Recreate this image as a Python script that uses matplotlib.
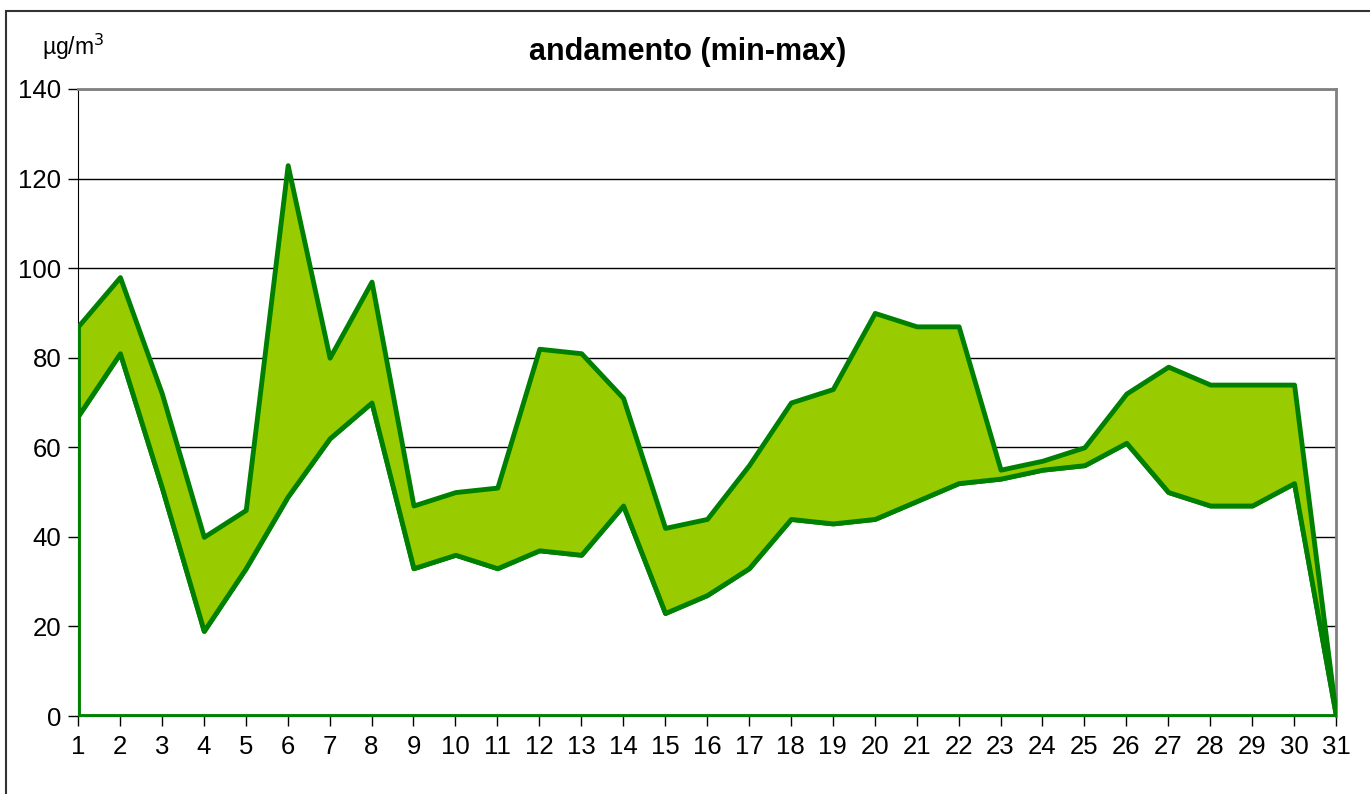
import numpy as np
import matplotlib.pyplot as plt
from matplotlib.patches import Rectangle

plt.rcParams['font.family'] = ['Liberation Sans', 'DejaVu Sans']

# Dati (µg/m3)
giorni = list(range(1, 32))
val_max = [87, 98, 72, 40, 46, 123, 80, 97, 47, 50, 51, 82, 81, 71, 42, 44,
           56, 70, 73, 90, 87, 87, 55, 57, 60, 72, 78, 74, 74, 74, 0]
val_min = [67, 81, 51, 19, 33, 49, 62, 70, 33, 36, 33, 37, 36, 47, 23, 27,
           33, 44, 43, 44, 48, 52, 53, 55, 56, 61, 50, 47, 47, 52, 0]

verde = '#008000'
verde_chiaro = '#99CC00'

fig = plt.figure(figsize=(13.7, 7.94), dpi=100)
ax = fig.add_axes([78/1370, 1-716/794, (1336-78)/1370, (716-89)/794])

x = np.array(giorni)
ax.fill_between(x, 0, val_min, facecolor='white', edgecolor=verde, linewidth=3.5,
                joinstyle='round', zorder=3)
ax.fill_between(x, val_min, val_max, facecolor=verde_chiaro, edgecolor=verde,
                linewidth=3.5, joinstyle='round', zorder=3)

ax.set_xlim(1, 31)
ax.set_ylim(0, 140)
ax.set_xticks(giorni)
ax.set_yticks(range(0, 141, 20))
ax.yaxis.grid(True, color='black', linewidth=1)
ax.set_axisbelow(True)
ax.tick_params(axis='both', direction='out', length=7, width=1, labelsize=18.5, color='black')
ax.tick_params(axis='x', pad=7)
ax.tick_params(axis='y', pad=5)

for s in ['top', 'right']:
    ax.spines[s].set_color('#808080')
    ax.spines[s].set_linewidth(2)
ax.spines['left'].set_color('black')
ax.spines['bottom'].set_color('black')

fig.text(0.502, 1-52/794, 'andamento (min-max)', ha='center', va='center',
         fontsize=22, fontweight='bold')
fig.text(42/1370, 1-47/794, 'µg/m$^3$', ha='left', va='center', fontsize=16.5)

# cornice del grafico
fig.patches.append(Rectangle((6/1370, -0.1), 1.2, 1.1 - 11/794, transform=fig.transFigure,
                             fill=False, edgecolor='#333333', linewidth=1.5))

plt.savefig('out.png')
